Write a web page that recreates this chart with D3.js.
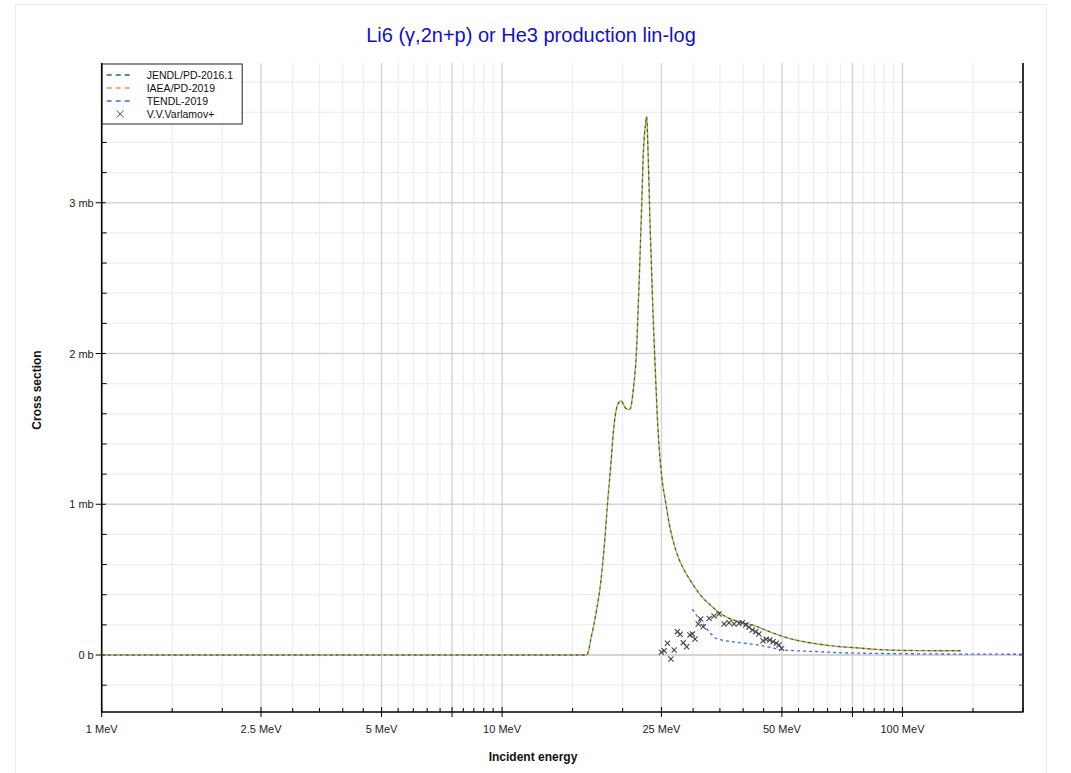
<!DOCTYPE html>
<html>
<head>
<meta charset="utf-8">
<script src="https://cdn.jsdelivr.net/npm/d3@7"></script>
<style>
  html, body { margin: 0; padding: 0; background: #fff; }
  svg { display: block; font-family: "Liberation Sans", Arial, sans-serif; }
</style>
</head>
<body>
<svg id="chart" width="1071" height="773"></svg>
<script>
// ---------- data (energies in MeV, cross sections in mb) ----------
const jendlE = [1, 10, 16.0, 16.3, 16.7, 17.16, 17.66, 17.99, 18.34, 18.70, 18.95, 19.42, 19.81, 20.38, 20.86, 21.26, 21.66, 21.91, 22.13, 22.34, 22.55, 22.78, 22.95, 23.21, 23.39, 23.61, 23.84, 24.12, 24.49, 24.67, 25.06, 25.64, 26.14, 27.16, 28.49, 29.31, 31.05, 33.5, 34.8, 36.2, 40.6, 42.2, 46.5, 52.2, 61.8, 69.5, 74.6, 88.9, 101.7, 140];
const jendlS = [0, 0, 0, 0.003, 0.12, 0.277, 0.497, 0.718, 1.006, 1.271, 1.47, 1.658, 1.686, 1.636, 1.629, 1.757, 2.02, 2.354, 2.686, 3.017, 3.349, 3.503, 3.57, 3.238, 2.906, 2.575, 2.243, 1.912, 1.514, 1.381, 1.18, 1.006, 0.873, 0.696, 0.564, 0.508, 0.409, 0.32, 0.282, 0.254, 0.21, 0.199, 0.155, 0.11, 0.072, 0.056, 0.05, 0.035, 0.03, 0.028];
const iaeaE = jendlE.slice();
const iaeaS = jendlS.slice();
const tendlE = [29.88, 31.0, 31.9, 33.0, 34.2, 34.83, 37.6, 39.1, 43.8, 50.1, 61.8, 69.5, 100, 123, 200];
const tendlS = [0.305, 0.24, 0.199, 0.15, 0.111, 0.104, 0.088, 0.082, 0.066, 0.035, 0.022, 0.015, 0.009, 0.007, 0.005];
const expE = [25.0, 25.4, 25.88, 26.4, 26.9, 27.4, 27.85, 28.35, 28.9, 29.45, 29.88, 30.33, 30.9, 31.33, 31.8, 32.9, 33.84, 34.8, 35.84, 36.88, 37.96, 39.07, 39.81, 40.6, 41.37, 42.17, 42.99, 43.81, 44.83, 45.7, 46.59, 47.5, 48.4, 49.15, 49.9];
const expS = [0.018, 0.029, 0.078, -0.027, 0.033, 0.155, 0.137, 0.082, 0.055, 0.133, 0.139, 0.106, 0.206, 0.239, 0.188, 0.243, 0.259, 0.272, 0.206, 0.214, 0.206, 0.21, 0.214, 0.199, 0.184, 0.166, 0.155, 0.139, 0.095, 0.104, 0.099, 0.088, 0.078, 0.066, 0.044];

const seriesNames = ["JENDL/PD-2016.1", "IAEA/PD-2019", "TENDL-2019", "V.V.Varlamov+"];
const seriesColors = ["#1c7c1c", "#f58a4c", "#3b6be0", "#444444"];

const xTickValues = [1, 2.5, 5, 10, 25, 50, 100];
const xTickLabels = ["1 MeV", "2.5 MeV", "5 MeV", "10 MeV", "25 MeV", "50 MeV", "100 MeV"];
const yTickValues = [0, 1, 2, 3];
const yTickLabels = ["0 b", "1 mb", "2 mb", "3 mb"];

const titleText = "Li6 (\u03b3,2n+p) or He3 production lin-log";
const xAxisTitle = "Incident energy";
const yAxisTitle = "Cross section";

// ---------- layout ----------
const L = 101.7, R = 1023, T = 63, B = 712;
const svg = d3.select("#chart");
const x = d3.scaleLog().domain([1, 200]).range([L, R]);
const y = d3.scaleLinear().domain([-0.378, 3.927]).range([B, T]);

svg.append("rect").attr("x", 15.5).attr("y", 4.5).attr("width", 1031).attr("height", 780)
  .attr("fill", "none").attr("stroke", "#ececec").attr("stroke-width", 1);

const xMinor = [];
[1, 10, 100].forEach(dec => { for (let m = 1; m < 10; m += 0.5) { const v = m * dec; if (v <= 200 && v > 1) xMinor.push(v); } });
xMinor.push(10, 100);
const xMid = [7.5, 75];
const yMinor = d3.range(-0.2, 3.9, 0.2).map(v => +v.toFixed(1)).filter(v => Math.abs(v - Math.round(v)) > 1e-6);

const grid = svg.append("g");
grid.selectAll(".vmin").data(xMinor.filter(v => !xTickValues.includes(v) && !xMid.includes(v))).enter().append("line")
  .attr("x1", d => x(d)).attr("x2", d => x(d)).attr("y1", T).attr("y2", B)
  .attr("stroke", "#eeeeee").attr("stroke-width", 1.2);
grid.selectAll(".hmin").data(yMinor).enter().append("line")
  .attr("x1", L).attr("x2", R).attr("y1", d => y(d)).attr("y2", d => y(d))
  .attr("stroke", "#eeeeee").attr("stroke-width", 1.2);
grid.selectAll(".vmaj").data(xTickValues.concat(xMid)).enter().append("line")
  .attr("x1", d => x(d)).attr("x2", d => x(d)).attr("y1", T).attr("y2", B)
  .attr("stroke", "#d4d4d4").attr("stroke-width", 1.4);
grid.selectAll(".hmaj").data(yTickValues).enter().append("line")
  .attr("x1", L).attr("x2", R).attr("y1", d => y(d)).attr("y2", d => y(d))
  .attr("stroke", "#d4d4d4").attr("stroke-width", d => d === 0 ? 2 : 1.6);

const ax = svg.append("g").attr("stroke", "#000");
ax.append("line").attr("x1", L).attr("x2", L).attr("y1", T).attr("y2", B + 0.5).attr("stroke-width", 1.6);
ax.append("line").attr("x1", L).attr("x2", R + 0.5).attr("y1", B).attr("y2", B).attr("stroke-width", 1.6);
ax.append("line").attr("x1", R).attr("x2", R).attr("y1", T).attr("y2", B).attr("stroke-width", 1.6);

ax.selectAll(".ytM").data(yTickValues).enter().append("line")
  .attr("x1", L - 6).attr("x2", L + 4).attr("y1", d => y(d)).attr("y2", d => y(d)).attr("stroke-width", 1);
ax.selectAll(".ytm").data(yMinor).enter().append("line")
  .attr("x1", L).attr("x2", L + 5).attr("y1", d => y(d)).attr("y2", d => y(d)).attr("stroke-width", 1);
ax.selectAll(".yrt").data(yTickValues.concat(yMinor)).enter().append("line")
  .attr("x1", R - 4).attr("x2", R).attr("y1", d => y(d)).attr("y2", d => y(d)).attr("stroke-width", 1).attr("stroke", "#555");
ax.selectAll(".xtM").data(xTickValues.concat(xMid)).enter().append("line")
  .attr("x1", d => x(d)).attr("x2", d => x(d)).attr("y1", B - 5).attr("y2", B + 5).attr("stroke-width", 1);
ax.selectAll(".xtm").data(xMinor.filter(v => !xTickValues.includes(v) && !xMid.includes(v))).enter().append("line")
  .attr("x1", d => x(d)).attr("x2", d => x(d)).attr("y1", B - 4).attr("y2", B).attr("stroke-width", 1);

svg.selectAll(".ytl").data(yTickValues).enter().append("text")
  .attr("x", L - 8).attr("y", d => y(d) + 4).attr("text-anchor", "end")
  .attr("font-size", 11).attr("fill", "#222").text((d, i) => yTickLabels[i]);
svg.selectAll(".xtl").data(xTickValues).enter().append("text")
  .attr("x", d => x(d)).attr("y", B + 21).attr("text-anchor", "middle")
  .attr("font-size", 11).attr("fill", "#222").text((d, i) => xTickLabels[i]);

svg.append("text").attr("x", 533).attr("y", 761).attr("text-anchor", "middle")
  .attr("font-size", 12).attr("font-weight", "bold").attr("fill", "#111").text(xAxisTitle);
svg.append("text").attr("transform", "translate(41,390) rotate(-90)").attr("text-anchor", "middle")
  .attr("font-size", 12).attr("font-weight", "bold").attr("fill", "#111").text(yAxisTitle);

svg.append("text").attr("x", 531).attr("y", 42).attr("text-anchor", "middle")
  .attr("font-size", 20).attr("fill", "#1010cc").text(titleText);

const plot = svg.append("g");
const line = d3.line().curve(d3.curveMonotoneX).x(d => x(d[0])).y(d => y(d[1]));
const zip = (a, b) => a.map((v, i) => [v, b[i]]);

plot.append("path").datum(zip(iaeaE, iaeaS)).attr("d", line).attr("fill", "none")
  .attr("stroke", seriesColors[1]).attr("stroke-width", 1.4).attr("stroke-dasharray", "3,3").attr("stroke-dashoffset", 3);
plot.append("path").datum(zip(jendlE, jendlS)).attr("d", line).attr("fill", "none")
  .attr("stroke", seriesColors[0]).attr("stroke-width", 1.4).attr("stroke-dasharray", "3,3");
plot.append("path").datum(zip(tendlE, tendlS)).attr("d", line).attr("fill", "none")
  .attr("stroke", seriesColors[2]).attr("stroke-width", 1.3).attr("stroke-dasharray", "3,3");

const cs = 2.6;
const crosses = plot.selectAll(".pt").data(zip(expE, expS)).enter().append("g")
  .attr("transform", d => `translate(${x(d[0])},${y(d[1])})`);
crosses.append("line").attr("x1", -cs).attr("y1", -cs).attr("x2", cs).attr("y2", cs).attr("stroke", seriesColors[3]).attr("stroke-width", 1.1);
crosses.append("line").attr("x1", -cs).attr("y1", cs).attr("x2", cs).attr("y2", -cs).attr("stroke", seriesColors[3]).attr("stroke-width", 1.1);

const lg = svg.append("g").attr("transform", `translate(${L},${T + 1})`);
lg.append("rect").attr("x", 0.5).attr("y", 0).attr("width", 140).attr("height", 60)
  .attr("fill", "#fff").attr("stroke", "#222").attr("stroke-width", 1);
seriesNames.forEach((name, i) => {
  const yy = 11 + i * 13;
  if (i < 3) {
    lg.append("line").attr("x1", 5).attr("x2", 32).attr("y1", yy).attr("y2", yy)
      .attr("stroke", seriesColors[i]).attr("stroke-width", 1.6).attr("stroke-dasharray", "5,4");
  } else {
    lg.append("line").attr("x1", 15).attr("y1", yy - 3.5).attr("x2", 22).attr("y2", yy + 3.5).attr("stroke", "#444").attr("stroke-width", 1);
    lg.append("line").attr("x1", 15).attr("y1", yy + 3.5).attr("x2", 22).attr("y2", yy - 3.5).attr("stroke", "#444").attr("stroke-width", 1);
  }
  lg.append("text").attr("x", 45).attr("y", yy + 4).attr("font-size", 10.5).attr("fill", "#111").text(name);
});
</script>
</body>
</html>
